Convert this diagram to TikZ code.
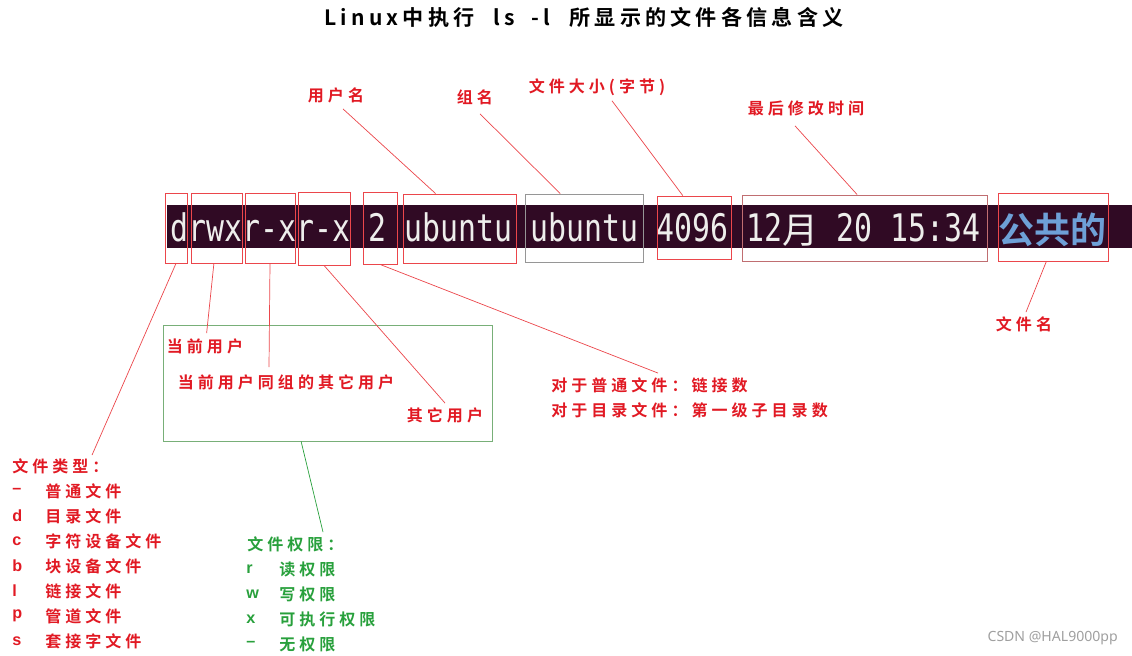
\documentclass[tikz,border=0pt]{standalone}
\usepackage{fontspec}
\usetikzlibrary{calc,fit}

\newfontfamily\termfont{DejaVu Sans Mono}
\newfontfamily\termcjk{Noto Sans CJK SC}[BoldFont={Noto Sans CJK SC Bold}]
\newfontfamily\lblfont{Noto Sans CJK SC}[LetterSpace=25,BoldFont={Noto Sans CJK SC Bold}]
\newfontfamily\titlefont{Noto Sans CJK SC Bold}[LetterSpace=20]
\newfontfamily\keyfont{Liberation Sans}
\newfontfamily\markfont{Noto Sans}

\definecolor{termbg}{RGB}{48,10,36}
\definecolor{termfg}{RGB}{238,238,236}
\definecolor{dirblue}{RGB}{110,160,215}
\definecolor{tagred}{RGB}{225,25,35}
\definecolor{taggreen}{RGB}{40,160,60}
\definecolor{boxred}{RGB}{235,70,75}
\definecolor{boxgray}{RGB}{150,150,150}
\definecolor{boxgreen}{RGB}{120,175,120}

\newcommand\monotxt[1]{\scalebox{0.787}[1]{\termfont\fontsize{27pt}{27pt}\selectfont #1}}

\begin{document}
\begin{tikzpicture}[x=0.025cm, y=-0.025cm,
  mono/.style={text=termfg, inner sep=0, anchor=base west},
  fieldbox/.style={draw=boxred, line width=0.6pt, inner sep=0},
  tag/.style={text=tagred, inner sep=0, font=\lblfont\bfseries\fontsize{11.4pt}{13pt}\selectfont},
  ptag/.style={tag, text=taggreen},
  key/.style={inner sep=0, anchor=west, font=\keyfont\bfseries\fontsize{11.5pt}{13pt}\selectfont},
  lead/.style={draw=boxred, line width=0.5pt},
  plead/.style={draw=taggreen, line width=0.5pt}]
  \useasboundingbox (0,0) rectangle (1132,656);

  \node[inner sep=0, font=\titlefont\fontsize{15pt}{18pt}\selectfont] (title) at (584,17)
    {Linux中执行\hspace{0.9em}ls\hspace{0.8em}-l\hspace{0.9em}所显示的文件各信息含义};

  % terminal line
  \fill[termbg] (167,205) rectangle (1132,248);
  \node[mono] (perm) at (170,242) {\monotxt{drwxr-xr-x}};
  \node[mono] (links) at (368,242) {\monotxt{2}};
  \node[mono] (owner) at (404,242) {\monotxt{ubuntu}};
  \node[mono] (group) at (530,242) {\monotxt{ubuntu}};
  \node[mono] (size) at (656,242) {\monotxt{4096}};
  \node[mono] (month) at (746,242) {\monotxt{12}};
  \node[mono, font=\termcjk\fontsize{25.6pt}{26pt}\selectfont] (yue) at (782,243) {月};
  \node[mono] (day) at (836,242) {\monotxt{20}};
  \node[mono] (clock) at (890,242) {\monotxt{15:34}};
  \node[mono, text=dirblue, font=\termcjk\bfseries\fontsize{25.6pt}{26pt}\selectfont] (fname) at (998,244) {公共的};

  \node[fieldbox, fit={(165,193) (187,263)}] (ftype) {};
  \node[fieldbox, fit={(191,193) (242,263)}] (fusr) {};
  \node[fieldbox, fit={(245,193) (295,263)}] (fgrp) {};
  \node[fieldbox, fit={(298,192) (350,265)}] (foth) {};
  \node[fieldbox, fit={(363,192) (397,264)}] (flnk) {};
  \node[fieldbox, fit={(403,194) (516,263)}] (fown) {};
  \node[fieldbox, draw=boxgray, fit={(525,194) (643,262)}] (fgrn) {};
  \node[fieldbox, fit={(657,196) (731,259)}] (fsize) {};
  \node[fieldbox, draw=boxgray!50!boxred, fit={(742,195) (987,261)}] (ftime) {};
  \node[fieldbox, fit={(998,193) (1108,261)}] (fnm) {};

  % labels above and right
  \node[tag] (towner) at (336,95) {用户名};
  \node[tag] (tgroup) at (475,97) {组名};
  \node[tag] (tsize) at (597,87) {文件大小(字节)};
  \node[tag] (ttime) at (806,108) {最后修改时间};
  \node[tag] (tname) at (1024,324) {文件名};

  \draw[lead] ($(towner.south)+(7,6)$) -- ($(fown.north west)!0.29!(fown.north east)$);
  \draw[lead] ($(tgroup.south)+(5,9)$) -- ($(fgrn.north west)!0.3!(fgrn.north east)$);
  \draw[lead] ($(tsize.south)+(15,5)$) -- ($(fsize.north west)!0.35!(fsize.north east)$);
  \draw[lead] ($(ttime.south)+(-11,10)$) -- ($(ftime.north west)!0.47!(ftime.north east)$);
  \draw[lead] ($(fnm.south west)!0.44!(fnm.south east)$) -- ($(tname.north)+(2,-4)$);

  % permission groups
  \node[draw=boxgreen, line width=0.6pt, inner sep=0, fit={(163,325) (492,441)}] (permbox) {};
  \node[tag] (tusr) at (205,346) {当前用户};
  \node[tag] (tgrp) at (286,382) {当前用户同组的其它用户};
  \node[tag] (toth) at (445,415) {其它用户};

  \draw[lead] ($(fusr.south west)!0.45!(fusr.south east)$) -- ($(tusr.north west)+(40,-5)$);
  \draw[lead] (fgrp.south) -- ($(fgrp.south |- tgrp.north)+(-1,-7)$);
  \draw[lead] (foth.south) -- ($(toth.north)+(0,-4)$);

  % link count
  \node[tag, anchor=west] (tlnk1) at (551,385) {对于普通文件：链接数};
  \node[tag, anchor=west] (tlnk2) at (551,410) {对于目录文件：第一级子目录数};
  \draw[lead] (flnk.south) -- ($(tlnk1.north west)+(107,-4)$);

  % file type list
  \node[tag, anchor=west] (ttype) at (12,466) {文件类型：};
  \foreach \k/\t [count=\i] in {–/普通文件, d/目录文件, c/字符设备文件, b/块设备文件, l/链接文件, p/管道文件, s/套接字文件} {
    \node[key, text=tagred] (tk\i) at (12,466+25*\i) {\k};
    \node[tag, anchor=west] (tt\i) at (45,466+25*\i) {\t};
  }
  \draw[lead] (ftype.south) -- ($(ttype.north west)+(80,-3)$);

  % permission list
  \node[ptag, anchor=west] (tperm) at (247,544) {文件权限：};
  \foreach \k/\t [count=\i] in {r/读权限, w/写权限, x/可执行权限, –/无权限} {
    \node[key, text=taggreen] (pk\i) at (246,544+25*\i) {\k};
    \node[ptag, anchor=west] (pt\i) at (279,544+25*\i) {\t};
  }
  \draw[plead] ($(permbox.south west)!0.42!(permbox.south east)$) -- ($(tperm.north west)+(76,-4)$);

  \node[inner sep=0, anchor=east, text=gray!75, font=\markfont\fontsize{10pt}{12pt}\selectfont] (mark) at (1118,638) {CSDN @HAL9000pp};
\end{tikzpicture}
\end{document}
